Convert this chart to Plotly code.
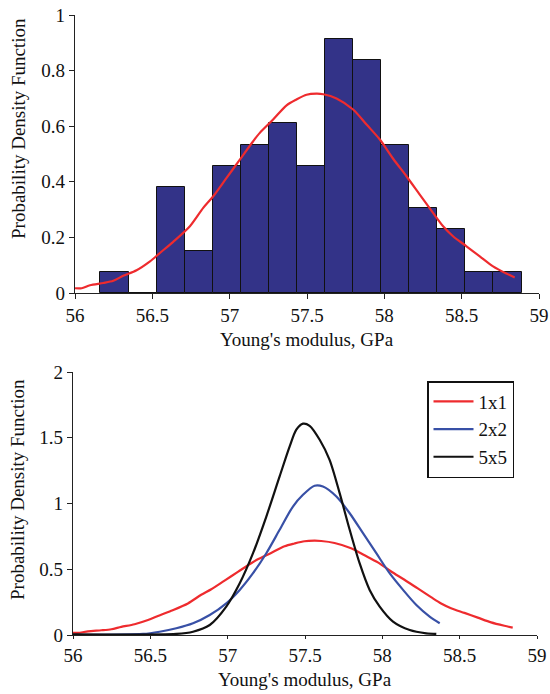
import plotly.graph_objects as go
import numpy as np

# ---- data ----
bin_edges = [56.164, 56.346, 56.527, 56.709, 56.890, 57.072, 57.253, 57.435,
             57.616, 57.798, 57.979, 58.161, 58.342, 58.524, 58.705, 58.887]
hist_density = [0.076, 0.0, 0.381, 0.152, 0.457, 0.533, 0.610, 0.457,
                0.914, 0.838, 0.533, 0.305, 0.229, 0.076, 0.076]

x_1x1 = [56.00, 56.043, 56.097, 56.183, 56.248, 56.312, 56.398, 56.485, 56.549, 56.635,
         56.743, 56.829, 56.894, 56.98, 57.066, 57.152, 57.195, 57.281, 57.368, 57.432,
         57.497, 57.561, 57.605, 57.691, 57.798, 57.885, 57.971, 58.057, 58.143, 58.229,
         58.315, 58.38, 58.444, 58.531, 58.617, 58.703, 58.789, 58.843]
y_1x1 = [0.017, 0.017, 0.028, 0.036, 0.044, 0.062, 0.082, 0.114, 0.144, 0.184,
         0.240, 0.306, 0.348, 0.414, 0.480, 0.546, 0.576, 0.624, 0.675, 0.696,
         0.713, 0.717, 0.715, 0.700, 0.660, 0.606, 0.552, 0.483, 0.420, 0.354,
         0.288, 0.240, 0.204, 0.168, 0.132, 0.096, 0.070, 0.056]

x_2x2 = [56.0, 56.453, 56.560, 56.668, 56.776, 56.884, 56.991, 57.078, 57.164, 57.25,
         57.336, 57.422, 57.487, 57.562, 57.616, 57.703, 57.789, 57.875, 57.961, 58.047,
         58.134, 58.22, 58.306, 58.371]
y_2x2 = [0.002, 0.008, 0.025, 0.051, 0.089, 0.152, 0.241, 0.343, 0.470, 0.622,
         0.800, 0.977, 1.066, 1.135, 1.129, 1.053, 0.926, 0.774, 0.622, 0.470,
         0.343, 0.228, 0.140, 0.089]

x_5x5 = [56.0, 56.668, 56.776, 56.884, 56.991, 57.078, 57.164, 57.25, 57.336, 57.401,
         57.444, 57.487, 57.530, 57.595, 57.659, 57.724, 57.789, 57.853, 57.918, 57.983,
         58.069, 58.177, 58.284, 58.349]
y_5x5 = [0.005, 0.008, 0.025, 0.076, 0.216, 0.393, 0.622, 0.901, 1.206, 1.434,
         1.561, 1.607, 1.591, 1.485, 1.332, 1.079, 0.800, 0.546, 0.343, 0.216,
         0.102, 0.038, 0.013, 0.008]

x_ticks = [56, 56.5, 57, 57.5, 58, 58.5, 59]
x_tick_text = ["56", "56.5", "57", "57.5", "58", "58.5", "59"]
y1_ticks = [0, 0.2, 0.4, 0.6, 0.8, 1]
y1_tick_text = ["0", "0.2", "0.4", "0.6", "0.8", "1"]
y2_ticks = [0, 0.5, 1, 1.5, 2]
y2_tick_text = ["0", "0.5", "1", "1.5", "2"]

RED = "#ee2b2e"
BLUE = "#3850a6"
BLACK = "#111111"
NAVY = "#333388"
FONT = "Liberation Serif"

edges = np.array(bin_edges)
centers = (edges[:-1] + edges[1:]) / 2
widths = np.diff(edges)

fig = go.Figure()
fig.add_trace(go.Bar(x=centers, y=hist_density, width=widths,
                     marker=dict(color=NAVY, line=dict(color="#111111", width=1)),
                     xaxis="x", yaxis="y", showlegend=False))
fig.add_trace(go.Scatter(x=x_1x1, y=y_1x1, mode="lines",
                         line=dict(color=RED, width=2.2, shape="spline", smoothing=0.8),
                         xaxis="x", yaxis="y", showlegend=False))

fig.add_trace(go.Scatter(x=x_1x1, y=y_1x1, mode="lines", name="1x1",
                         line=dict(color=RED, width=2.2, shape="spline", smoothing=0.8),
                         xaxis="x2", yaxis="y2"))
fig.add_trace(go.Scatter(x=x_2x2, y=y_2x2, mode="lines", name="2x2",
                         line=dict(color=BLUE, width=2.2, shape="spline", smoothing=0.8),
                         xaxis="x2", yaxis="y2"))
fig.add_trace(go.Scatter(x=x_5x5, y=y_5x5, mode="lines", name="5x5",
                         line=dict(color=BLACK, width=2.2, shape="spline", smoothing=0.8),
                         xaxis="x2", yaxis="y2"))

W, H = 550, 694
def px_x(p): return p / W
def px_y(p): return 1 - p / H

axis_common = dict(showgrid=False, zeroline=False, showline=True, linecolor="#222222",
                   linewidth=1.2, ticks="outside", tickcolor="#222222",
                   automargin=False, ticklabeloverflow="allow",
                   tickfont=dict(family=FONT, size=19, color="#111111"))

fig.update_layout(
    width=W, height=H, margin=dict(l=0, r=0, t=0, b=0, autoexpand=False),
    paper_bgcolor="white", plot_bgcolor="white",
    font=dict(family=FONT, color="#111111"),
    bargap=0,
    xaxis=dict(domain=[px_x(75), px_x(539)], range=[56, 59], tickvals=x_ticks,
               ticktext=x_tick_text, anchor="y", ticklen=5, **axis_common),
    yaxis=dict(domain=[px_y(293), px_y(15)], range=[0, 1], tickvals=y1_ticks,
               ticktext=y1_tick_text, anchor="x", ticklen=5, **axis_common),
    xaxis2=dict(domain=[px_x(73), px_x(537)], range=[56, 59], tickvals=x_ticks,
                ticktext=x_tick_text, anchor="y2", ticklen=3, **axis_common),
    yaxis2=dict(domain=[px_y(635), px_y(372)], range=[0, 2], tickvals=y2_ticks,
                ticktext=y2_tick_text, anchor="x2", ticklen=5, **axis_common),
    legend=dict(x=px_x(427), y=px_y(381), xanchor="left", yanchor="top",
                bgcolor="white", bordercolor="#111111", borderwidth=1.5,
                font=dict(family=FONT, size=19, color="#111111"),
                tracegroupgap=0, itemwidth=40),
    annotations=[
        dict(text="Young's modulus, GPa", x=px_x(307), y=px_y(339), xref="paper", yref="paper",
             xanchor="center", yanchor="middle",
             showarrow=False, font=dict(family=FONT, size=19)),
        dict(text="Young's modulus, GPa", x=px_x(305), y=px_y(679), xref="paper", yref="paper",
             xanchor="center", yanchor="middle",
             showarrow=False, font=dict(family=FONT, size=19)),
        dict(text="Probability Density Function", x=px_x(18), y=px_y(129), xref="paper",
             yref="paper", xanchor="center", yanchor="middle",
             showarrow=False, textangle=-90, font=dict(family=FONT, size=19)),
        dict(text="Probability Density Function", x=px_x(18), y=px_y(490), xref="paper",
             yref="paper", xanchor="center", yanchor="middle",
             showarrow=False, textangle=-90, font=dict(family=FONT, size=19)),
    ],
)

fig.write_html("out.html", config={"displayModeBar": False},
               post_script="document.body.style.margin='0px';")
